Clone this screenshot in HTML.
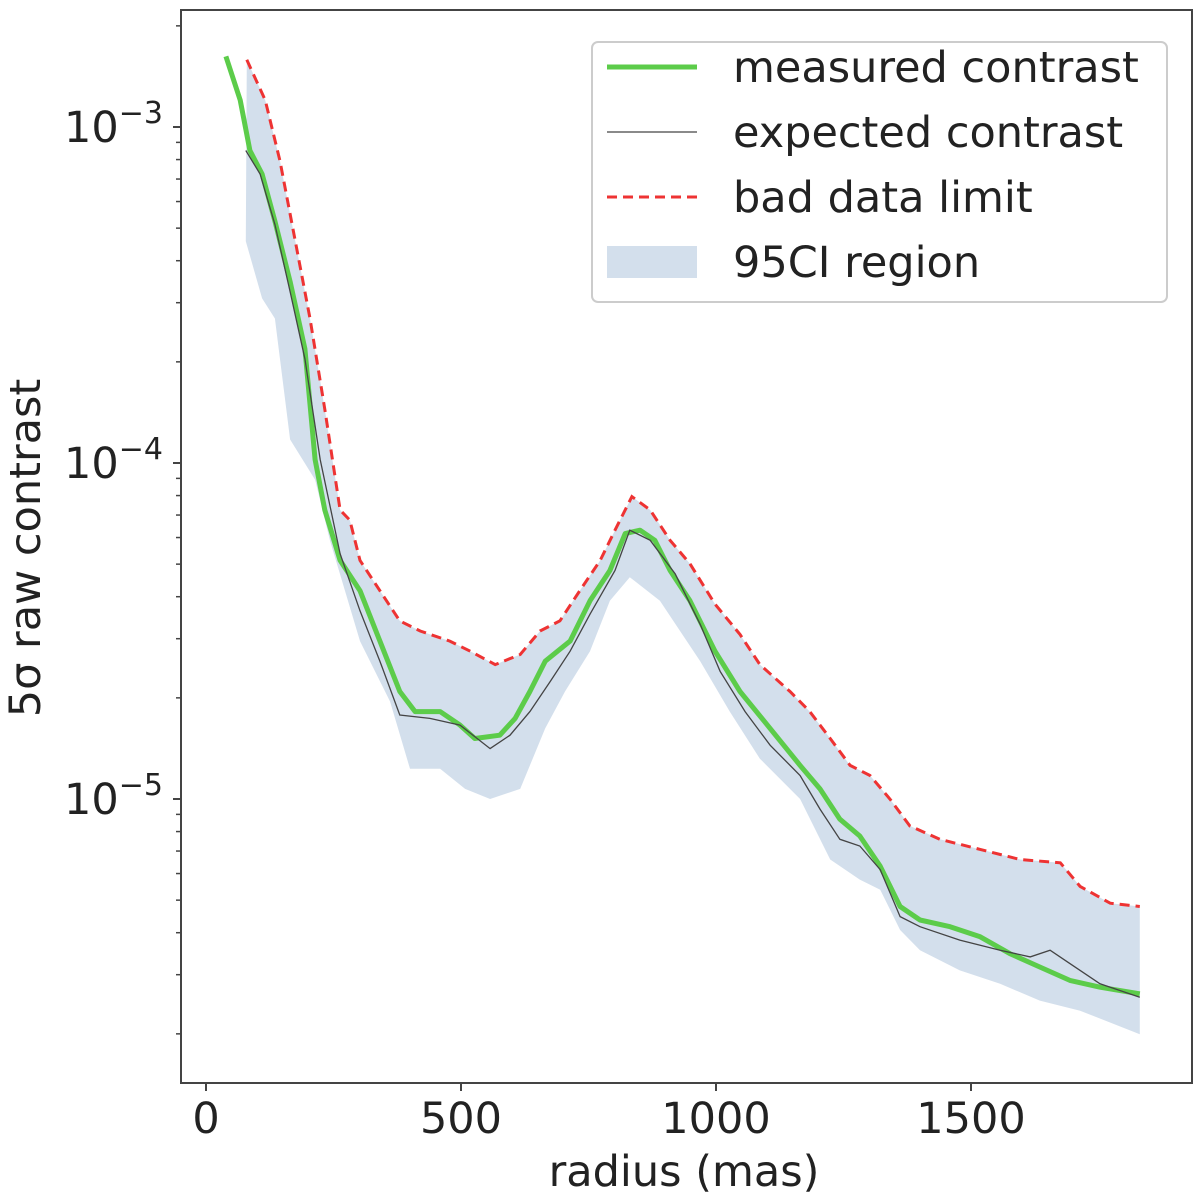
<!DOCTYPE html>
<html><head><meta charset="utf-8"><style>
html,body{margin:0;padding:0;background:#fff;}
svg{display:block;font-family:"DejaVu Sans","Liberation Sans",sans-serif;}
</style></head><body>
<svg id="chart" width="1200" height="1204" viewBox="0 0 1200 1204" xmlns="http://www.w3.org/2000/svg">
<g id="band"></g>
<g id="lines"></g>
<g id="axes"></g>
<g id="legend"></g>
</svg>
<script>
// radius (mas) and log10 contrast values
const measuredR = [39,67,86,110,135,165,194,214,233,263,302,341,380,410,459,498,527,576,606,635,665,714,753,792,822,851,880,910,949,998,1047,1106,1165,1204,1243,1282,1322,1361,1400,1459,1518,1576,1635,1694,1753,1831];
const measuredLog = [-2.79,-2.92,-3.07,-3.14,-3.28,-3.46,-3.66,-3.99,-4.14,-4.29,-4.38,-4.53,-4.68,-4.74,-4.74,-4.78,-4.82,-4.81,-4.76,-4.68,-4.59,-4.53,-4.41,-4.32,-4.21,-4.20,-4.23,-4.32,-4.41,-4.56,-4.68,-4.79,-4.90,-4.97,-5.06,-5.11,-5.20,-5.32,-5.36,-5.38,-5.41,-5.46,-5.50,-5.54,-5.56,-5.58];
const expectedR = [78,106,135,165,194,224,263,302,341,380,439,498,557,596,635,675,714,753,802,831,871,920,969,1008,1057,1106,1165,1204,1243,1282,1322,1361,1400,1478,1557,1616,1655,1694,1753,1831];
const expectedLog = [-3.07,-3.14,-3.29,-3.49,-3.69,-3.99,-4.27,-4.44,-4.59,-4.75,-4.76,-4.78,-4.85,-4.81,-4.74,-4.65,-4.56,-4.45,-4.32,-4.20,-4.23,-4.33,-4.48,-4.62,-4.74,-4.84,-4.93,-5.03,-5.12,-5.14,-5.21,-5.35,-5.38,-5.42,-5.45,-5.47,-5.45,-5.49,-5.55,-5.59];
const badR = [80,116,145,175,204,233,263,282,302,341,380,420,478,518,567,616,655,694,733,773,802,835,871,910,949,998,1047,1086,1145,1184,1224,1263,1302,1341,1380,1439,1518,1596,1675,1714,1773,1831];
const badLog = [-2.80,-2.92,-3.10,-3.34,-3.57,-3.84,-4.14,-4.17,-4.29,-4.38,-4.47,-4.50,-4.53,-4.56,-4.60,-4.57,-4.50,-4.47,-4.38,-4.29,-4.20,-4.10,-4.14,-4.23,-4.30,-4.42,-4.51,-4.60,-4.68,-4.74,-4.82,-4.90,-4.93,-5.00,-5.08,-5.12,-5.15,-5.18,-5.19,-5.26,-5.31,-5.32];
const lowR = [78,110,135,165,214,243,302,361,400,459,508,557,616,665,704,753,792,831,890,969,1027,1086,1165,1224,1282,1322,1361,1400,1478,1557,1635,1714,1831];
const lowLog = [-3.34,-3.51,-3.57,-3.93,-4.05,-4.23,-4.53,-4.71,-4.91,-4.91,-4.97,-5.00,-4.97,-4.79,-4.68,-4.56,-4.41,-4.34,-4.41,-4.59,-4.74,-4.88,-5.00,-5.18,-5.24,-5.27,-5.39,-5.45,-5.51,-5.55,-5.60,-5.63,-5.70];
const xTicks = [0,500,1000,1500];
const yTickExp = [-3,-4,-5];

const NS="http://www.w3.org/2000/svg";
const L=181,R=1192,T=10,B=1083;
function X(v){return 206+v*0.51;}
function YL(lg){return 127+(-3-lg)*336;}
function Y(v){return YL(Math.log10(v));}
function mk(tag,attrs,parent){const e=document.createElementNS(NS,tag);for(const k in attrs)e.setAttribute(k,attrs[k]);parent.appendChild(e);return e;}
function pts(rs,ls){return rs.map((r,i)=>X(r).toFixed(1)+","+Y(Math.pow(10,ls[i])).toFixed(1));}

const bandG=document.getElementById('band');
const up=pts(badR,badLog), lo=pts(lowR,lowLog).reverse();
const band=mk('polygon',{points:up.concat(lo).join(' '),fill:'#d3dfec',stroke:'none'},bandG);



const lg=document.getElementById('lines');
const bad=mk('polyline',{points:pts(badR,badLog).join(' '),fill:'none',stroke:'#ee3333','stroke-width':3,'stroke-dasharray':'10,6'},lg);


const meas=mk('polyline',{points:pts(measuredR,measuredLog).join(' '),fill:'none',stroke:'#5ccc4a','stroke-width':5,'stroke-linejoin':'round'},lg);


const exp=mk('polyline',{points:pts(expectedR,expectedLog).join(' '),fill:'none',stroke:'#444','stroke-width':1.3},lg);



const ax=document.getElementById('axes');
const frame=mk('rect',{x:L,y:T,width:R-L,height:B-T,fill:'none',stroke:'#444','stroke-width':2},ax);


xTicks.forEach(t=>{
  mk('line',{x1:X(t),x2:X(t),y1:B,y2:B+8,stroke:'#444','stroke-width':2},ax);
  const tx=mk('text',{x:X(t),y:B+50,'font-size':43,'text-anchor':'middle',fill:'#222'},ax);
  tx.textContent=t;
  
  
});
yTickExp.forEach(e=>{
  const y=YL(e);
  mk('line',{x1:L-8,x2:L,y1:y,y2:y,stroke:'#444','stroke-width':2},ax);
  const tx=mk('text',{x:L-18,y:y+15,'font-size':43,'text-anchor':'end',fill:'#222'},ax);
  tx.innerHTML='10<tspan dy="-19" font-size="30">\u2212'+(-e)+'</tspan>';
  
  
});
for(let d=-6;d<=-2;d++){for(let m=2;m<=9;m++){const y=YL(d+Math.log10(m));if(y>T&&y<B)mk('line',{x1:L-5,x2:L,y1:y,y2:y,stroke:'#444','stroke-width':1.5},ax);}}
const xl=mk('text',{x:684,y:1186,'font-size':43,'text-anchor':'middle',fill:'#222'},ax);
xl.textContent='radius (mas)';


const yl=mk('text',{x:0,y:0,'font-size':43,'text-anchor':'middle',fill:'#222',transform:'translate(40,548) rotate(-90)'},ax);
yl.textContent='5\u03c3 raw contrast';



const leg=document.getElementById('legend');
const box=mk('rect',{x:592,y:42,width:575,height:260,rx:6,fill:'#fff','fill-opacity':0.85,stroke:'#ccc','stroke-width':2},leg);


const entries=[['measured contrast','measured'],['expected contrast','expected'],['bad data limit','bad'],['95CI region','band']];
entries.forEach((en,i)=>{
  const y=67+i*65;
  let h;
  if(en[1]==='measured')h=mk('line',{x1:607,x2:697,y1:y,y2:y,stroke:'#5ccc4a','stroke-width':5},leg);
  else if(en[1]==='expected')h=mk('line',{x1:607,x2:697,y1:y,y2:y,stroke:'#444','stroke-width':1.3},leg);
  else if(en[1]==='bad')h=mk('line',{x1:607,x2:697,y1:y,y2:y,stroke:'#ee3333','stroke-width':3,'stroke-dasharray':'10,6'},leg);
  else h=mk('rect',{x:607,y:y-16,width:90,height:32,fill:'#d3dfec'},leg);
  
  
  const t=mk('text',{x:733,y:y+15,'font-size':43,fill:'#222'},leg);
  t.textContent=en[0];
  
  
});
</script>
</body></html>
